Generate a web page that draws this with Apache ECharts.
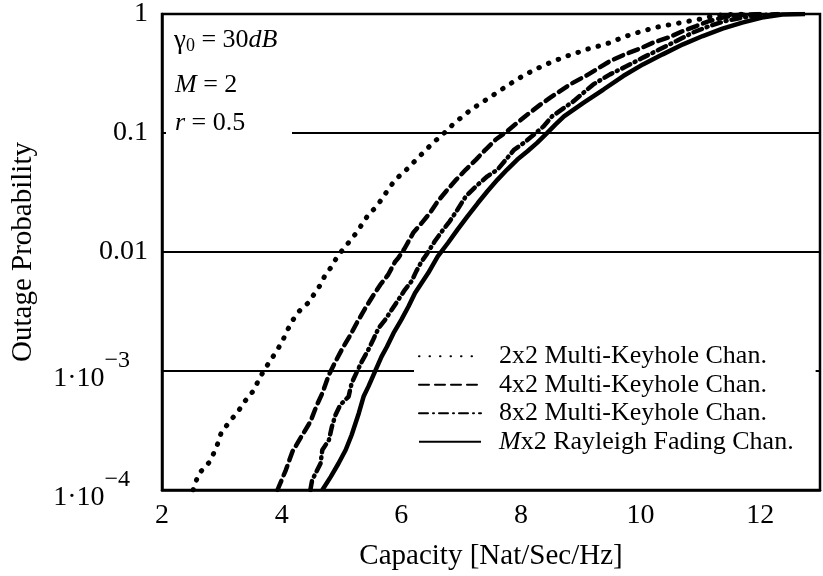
<!DOCTYPE html>
<html>
<head>
<meta charset="utf-8">
<script src="https://cdn.jsdelivr.net/npm/echarts@6/dist/echarts.min.js"></script>
<style>
html,body{margin:0;padding:0;background:#fff;}
#chart{width:823px;height:576px;}
</style>
</head>
<body>
<div id="chart"></div>
<script>
// ---- data ----
var seriesNames = ['2x2 Multi-Keyhole Chan.', '4x2 Multi-Keyhole Chan.', '8x2 Multi-Keyhole Chan.', 'Mx2 Rayleigh Fading Chan.'];

var cap2x2 = [2.52,2.61,2.80,2.91,2.99,3.13,3.28,3.38,3.53,3.63,3.73,3.82,3.93,4.01,4.10,4.19,4.30,4.44,4.54,4.65,4.73,4.84,4.93,5.04,5.25,5.45,5.59,5.78,5.90,6.06,6.25,6.39,6.53,6.66,6.77,6.89,7.03,7.17,7.30,7.47,7.72,7.89,8.05,8.22,8.38,8.55,8.74,8.94,9.10,9.30,9.49,9.65,9.85,10.04,10.24,10.43,10.62,10.82,11.04,11.20,11.42,11.80];
var prob2x2 = [1.0e-4,1.36e-4,1.73e-4,2.28e-4,3.03e-4,3.75e-4,4.64e-4,5.52e-4,6.84e-4,8.69e-4,1.06e-3,1.24e-3,1.51e-3,1.77e-3,2.22e-3,2.69e-3,3.21e-3,3.72e-3,4.40e-3,5.31e-3,6.44e-3,7.57e-3,9.18e-3,1.07e-2,1.45e-2,2.06e-2,2.42e-2,3.34e-2,4.06e-2,4.77e-2,5.98e-2,7.03e-2,8.27e-2,9.40e-2,0.1056,0.122,0.138,0.158,0.174,0.198,0.240,0.273,0.305,0.338,0.370,0.402,0.438,0.473,0.505,0.538,0.574,0.621,0.675,0.719,0.769,0.803,0.835,0.873,0.915,0.962,0.99,1.0];

var cap4x2 = [3.93,4.07,4.18,4.33,4.48,4.59,4.68,4.79,4.90,5.02,5.15,5.27,5.40,5.52,5.65,5.78,5.90,5.95,6.06,6.20,6.34,6.48,6.61,6.75,6.92,7.08,7.25,7.41,7.58,7.75,7.94,8.11,8.33,8.49,8.82,9.10,9.49,9.74,9.99,10.21,10.46,10.71,10.93,11.15,11.37,11.59,12.00];
var prob4x2 = [1.0e-4,1.47e-4,2.10e-4,2.81e-4,3.75e-4,5.19e-4,6.50e-4,9.27e-4,1.20e-3,1.56e-3,2.01e-3,2.61e-3,3.38e-3,4.23e-3,5.31e-3,6.44e-3,8.34e-3,8.90e-3,1.08e-2,1.45e-2,1.75e-2,2.13e-2,2.67e-2,3.24e-2,4.06e-2,4.93e-2,5.98e-2,7.26e-2,8.82e-2,0.1016,0.122,0.143,0.174,0.198,0.256,0.305,0.402,0.458,0.512,0.574,0.633,0.719,0.792,0.873,0.933,0.975,1.0];

var cap8x2 = [4.48,4.51,4.65,4.68,4.79,4.84,4.90,4.98,5.12,5.17,5.26,5.34,5.45,5.53,5.62,5.73,5.84,5.95,6.06,6.17,6.25,6.34,6.42,6.56,6.70,6.81,6.94,7.08,7.25,7.44,7.61,7.75,7.89,8.05,8.22,8.38,8.52,8.88,9.21,9.49,9.77,10.04,10.32,10.60,10.87,11.15,11.42,11.70,11.98,12.30];
var prob8x2 = [1.0e-4,1.21e-4,1.67e-4,2.17e-4,2.63e-4,3.40e-4,4.27e-4,5.19e-4,6.10e-4,7.89e-4,9.89e-4,1.20e-3,1.51e-3,1.83e-3,2.29e-3,2.69e-3,3.27e-3,3.96e-3,4.81e-3,5.66e-3,6.87e-3,8.34e-3,9.49e-3,1.23e-2,1.54e-2,1.81e-2,2.27e-2,2.94e-2,3.57e-2,4.33e-2,4.93e-2,5.98e-2,7.26e-2,8.27e-2,9.71e-2,0.114,0.138,0.185,0.256,0.311,0.365,0.430,0.505,0.593,0.697,0.792,0.873,0.933,0.975,1.0];

var capRay = [4.68,4.82,4.95,5.07,5.17,5.29,5.37,5.45,5.56,5.67,5.76,5.87,6.00,6.12,6.23,6.34,6.45,6.61,6.78,6.94,7.11,7.28,7.44,7.61,7.77,7.94,8.11,8.27,8.44,8.58,8.72,9.05,9.38,9.71,10.04,10.37,10.71,11.04,11.37,11.70,12.03,12.37,12.75];
var probRay = [1.0e-4,1.29e-4,1.67e-4,2.17e-4,2.90e-4,4.42e-4,6.10e-4,7.39e-4,9.89e-4,1.32e-3,1.60e-3,2.08e-3,2.69e-3,3.48e-3,4.52e-3,5.48e-3,6.65e-3,9.18e-3,1.19e-2,1.54e-2,2.00e-2,2.58e-2,3.24e-2,4.06e-2,4.93e-2,5.98e-2,7.03e-2,8.27e-2,0.1004,0.118,0.138,0.180,0.232,0.301,0.377,0.458,0.556,0.653,0.753,0.847,0.933,0.99,1.0];

var xTicks = [2, 4, 6, 8, 10, 12];
var yTickLabels = {'0': '1', '-1': '0.1', '-2': '0.01', '-3': '{b|1·10}{s|−3}', '-4': '{b|1·10}{s|−4}'};

function pairs(xs, ys) { return xs.map(function (x, i) { return [x, ys[i]]; }); }

var FONT = 'Liberation Serif';
var chart = echarts.init(document.getElementById('chart'), null, {renderer: 'canvas'});

var option = {
  backgroundColor: '#fff',
  animation: false,
  color: ['#000', '#000', '#000', '#000'],
  grid: {left: 162, top: 14, right: -3, bottom: 86, show: true, borderColor: '#000', borderWidth: 2.5, backgroundColor: 'transparent'},
  xAxis: {
    type: 'value', min: 2, max: 13, interval: 2,
    name: 'Capacity [Nat/Sec/Hz]', nameLocation: 'middle', nameGap: 52,
    nameTextStyle: {fontFamily: FONT, fontSize: 29, color: '#000'},
    axisLine: {show: true, lineStyle: {color: '#000', width: 2.5}},
    axisTick: {show: false},
    splitLine: {show: false},
    axisLabel: {fontFamily: FONT, fontSize: 28, color: '#000', margin: 12,
      formatter: function (v) { return xTicks.indexOf(v) >= 0 ? String(v) : ''; }}
  },
  yAxis: {
    type: 'log', logBase: 10, min: 1e-4, max: 1,
    name: 'Outage Probability', nameLocation: 'middle', nameGap: 124,
    nameTextStyle: {fontFamily: FONT, fontSize: 29, color: '#000'},
    axisLine: {show: true, lineStyle: {color: '#000', width: 2.5}},
    axisTick: {show: true, inside: true, length: 5, lineStyle: {color: '#000', width: 2}},
    splitLine: {show: true, lineStyle: {color: '#000', width: 2}},
    axisLabel: {
      fontFamily: FONT, fontSize: 28, color: '#000', margin: 14,
      formatter: function (v) {
        var k = String(Math.round(Math.log10(v)));
        return yTickLabels[k] || '';
      },
      rich: {
        b: {fontFamily: FONT, fontSize: 28, color: '#000', verticalAlign: 'bottom', lineHeight: 44},
        s: {fontFamily: FONT, fontSize: 24, color: '#000', verticalAlign: 'top', lineHeight: 44, padding: [0, 18, 0, 0]}
      }
    }
  },
  legend: {
    orient: 'vertical', left: 414, top: 340,
    itemWidth: 62, itemHeight: 14, itemGap: 0,
    backgroundColor: '#fff', padding: [2, 22, 6, 4],
    data: seriesNames,
    itemStyle: {opacity: 0},
    textStyle: {fontFamily: FONT, fontSize: 26, color: '#000', lineHeight: 28.5, padding: [0, 0, 0, 13],
      rich: {i: {fontFamily: FONT, fontSize: 26, fontStyle: 'italic', color: '#000'},
             n: {fontFamily: FONT, fontSize: 26, color: '#000'}}},
    formatter: function (name) {
      if (name.charAt(0) === 'M') return '{i|M}{n|' + name.slice(1) + '}';
      return name;
    }
  },
  graphic: [
    {type: 'rect', left: 166, top: 18, z: 10, shape: {width: 126, height: 124}, style: {fill: '#fff'}},
    {type: 'text', left: 174, top: 27, z: 11, style: {
      text: '{g|γ}{sub|0}{n| = 30}{i|dB}',
      rich: {
        g: {fontFamily: FONT, fontSize: 27, fill: '#000'},
        sub: {fontFamily: FONT, fontSize: 18, fill: '#000', padding: [12, 0, 0, 0]},
        n: {fontFamily: FONT, fontSize: 26, fill: '#000'},
        i: {fontFamily: FONT, fontSize: 26, fill: '#000', fontStyle: 'italic'}
      }}},
    {type: 'text', left: 175, top: 72, z: 11, style: {
      text: '{i|M}{n| = 2}',
      rich: {
        n: {fontFamily: FONT, fontSize: 26, fill: '#000'},
        i: {fontFamily: FONT, fontSize: 26, fill: '#000', fontStyle: 'italic'}
      }}},
    {type: 'text', left: 175, top: 110, z: 11, style: {
      text: '{i|r}{n| = 0.5}',
      rich: {
        n: {fontFamily: FONT, fontSize: 26, fill: '#000'},
        i: {fontFamily: FONT, fontSize: 26, fill: '#000', fontStyle: 'italic'}
      }}}
  ],
  series: [
    {name: seriesNames[0], type: 'line', symbol: 'none', data: pairs(cap2x2, prob2x2),
      itemStyle: {color: '#000'},
      lineStyle: {color: '#000', width: 5, type: [0.5, 10], cap: 'round'}},
    {name: seriesNames[1], type: 'line', symbol: 'none', data: pairs(cap4x2, prob4x2),
      itemStyle: {color: '#000'},
      lineStyle: {color: '#000', width: 4.5, type: [10, 6], cap: 'round'}},
    {name: seriesNames[2], type: 'line', symbol: 'none', data: pairs(cap8x2, prob8x2),
      itemStyle: {color: '#000'},
      lineStyle: {color: '#000', width: 4.5, type: [9, 5, 1, 5], cap: 'round'}},
    {name: seriesNames[3], type: 'line', symbol: 'none', data: pairs(capRay, probRay),
      itemStyle: {color: '#000'},
      lineStyle: {color: '#000', width: 4.5}}
  ]
};
chart.setOption(option);
</script>
</body>
</html>
